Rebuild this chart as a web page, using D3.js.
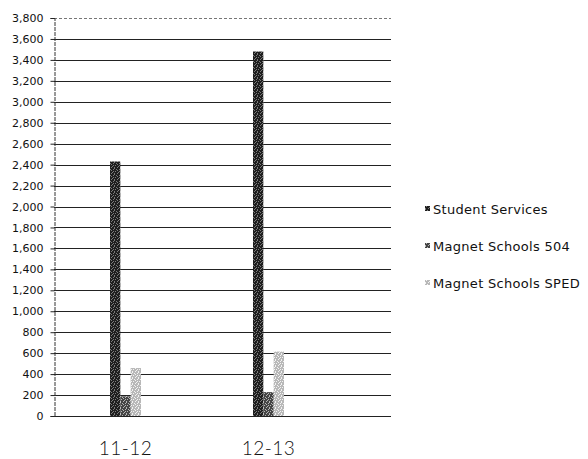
<!DOCTYPE html>
<html>
<head>
<meta charset="utf-8">
<script src="https://cdn.jsdelivr.net/npm/d3@7"></script>
<style>
  html, body { margin: 0; padding: 0; background: #fff; }
  svg { display: block; }
  text { font-family: "DejaVu Sans", sans-serif; fill: #111; }
</style>
</head>
<body>
<svg id="chart" width="588" height="459"></svg>
<script>
// School years on the category axis
const categories = ["11-12", "12-13"];
// Series names in legend order
const seriesNames = ["Student Services", "Magnet Schools 504", "Magnet Schools SPED"];
// Values per series, one per school year
const studentServices = [2430, 3480];
const magnet504 = [188, 228];
const magnetSped = [458, 615];
// Value axis ticks
const yTicks = d3.range(0, 3801, 200);

const seriesValues = [studentServices, magnet504, magnetSped];

const svg = d3.select("#chart");

// Stippled fills for the bars
const defs = svg.append("defs");
const fills = [
  { id: "fillSS", base: "#1e1e1e", dot: "#7a7a7a" },
  { id: "fill504", base: "#454545", dot: "#b5b5b5" },
  { id: "fillSPED", base: "#b8b8b8", dot: "#f2f2f2" }
];
const dotSpots = [[0, 0], [2, 1], [1, 3], [3, 2], [4, 4], [5, 1], [0, 5], [3, 5], [5, 3]];
fills.forEach(f => {
  const p = defs.append("pattern")
    .attr("id", f.id).attr("patternUnits", "userSpaceOnUse")
    .attr("width", 6).attr("height", 6);
  p.append("rect").attr("width", 6).attr("height", 6).attr("fill", f.base);
  dotSpots.forEach(([x, y]) => p.append("rect")
    .attr("x", x).attr("y", y).attr("width", 1).attr("height", 1).attr("fill", f.dot));
});

const plotLeft = 54, plotRight = 391, plotTop = 18, plotBottom = 416;

const y = d3.scaleLinear().domain([0, 3800]).range([plotBottom, plotTop]);
const x = d3.scaleBand().domain(categories).range([plotLeft, 340]).paddingInner(0).paddingOuter(0);
const xInner = d3.scaleBand().domain(d3.range(seriesNames.length))
  .range([x.bandwidth() / 2 - 15.5, x.bandwidth() / 2 + 15.5]).padding(0);

// Horizontal gridlines
svg.append("g").selectAll("line").data(yTicks).join("line")
  .attr("x1", plotLeft).attr("x2", plotRight)
  .attr("y1", d => Math.round(y(d)) + 0.5).attr("y2", d => Math.round(y(d)) + 0.5)
  .attr("stroke", d => d === 3800 ? "#777" : "#222")
  .attr("stroke-width", 1)
  .attr("stroke-dasharray", d => d === 3800 ? "3,2" : null);

// Value axis with outward ticks
const yAxis = svg.append("g")
  .attr("transform", `translate(${plotLeft + 0.5},0)`)
  .call(d3.axisLeft(y).tickValues(yTicks).tickFormat(d3.format(",")).tickSize(4).tickPadding(7));
yAxis.select(".domain").attr("stroke", "#333").attr("stroke-dasharray", "4,1");
yAxis.selectAll(".tick line").attr("stroke", "#222");
yAxis.selectAll(".tick text")
  .attr("font-family", "DejaVu Sans, sans-serif").attr("font-size", 11).attr("fill", "#222");

// Bars
const groups = svg.append("g").selectAll("g").data(categories).join("g")
  .attr("transform", d => `translate(${x(d)},0)`);
groups.selectAll("rect")
  .data((d, i) => seriesValues.map((vals, s) => ({ s, v: vals[i] })))
  .join("rect")
  .attr("x", d => xInner(d.s))
  .attr("width", xInner.bandwidth())
  .attr("y", d => y(d.v))
  .attr("height", d => y(0) - y(d.v))
  .attr("fill", d => `url(#${fills[d.s].id})`);

// Category labels
svg.append("g").selectAll("text").data(categories).join("text")
  .attr("x", d => x(d) + x.bandwidth() / 2)
  .attr("y", 455)
  .attr("text-anchor", "middle")
  .style("font-family", "Lato, 'DejaVu Sans', sans-serif")
  .style("font-weight", 300)
  .attr("font-size", 19)
  .attr("letter-spacing", 0.5)
  .text(d => d);

// Legend
const legend = svg.append("g").selectAll("g").data(seriesNames).join("g")
  .attr("transform", (d, i) => `translate(425,${209 + i * 37})`);
legend.append("rect")
  .attr("x", 0).attr("y", -3).attr("width", 5).attr("height", 5)
  .attr("fill", (d, i) => `url(#${fills[i].id})`);
legend.append("text")
  .attr("x", 8).attr("y", 4.5)
  .attr("font-size", 13)
  .attr("letter-spacing", 0.3)
  .attr("fill", "#222")
  .text(d => d);
</script>
</body>
</html>
